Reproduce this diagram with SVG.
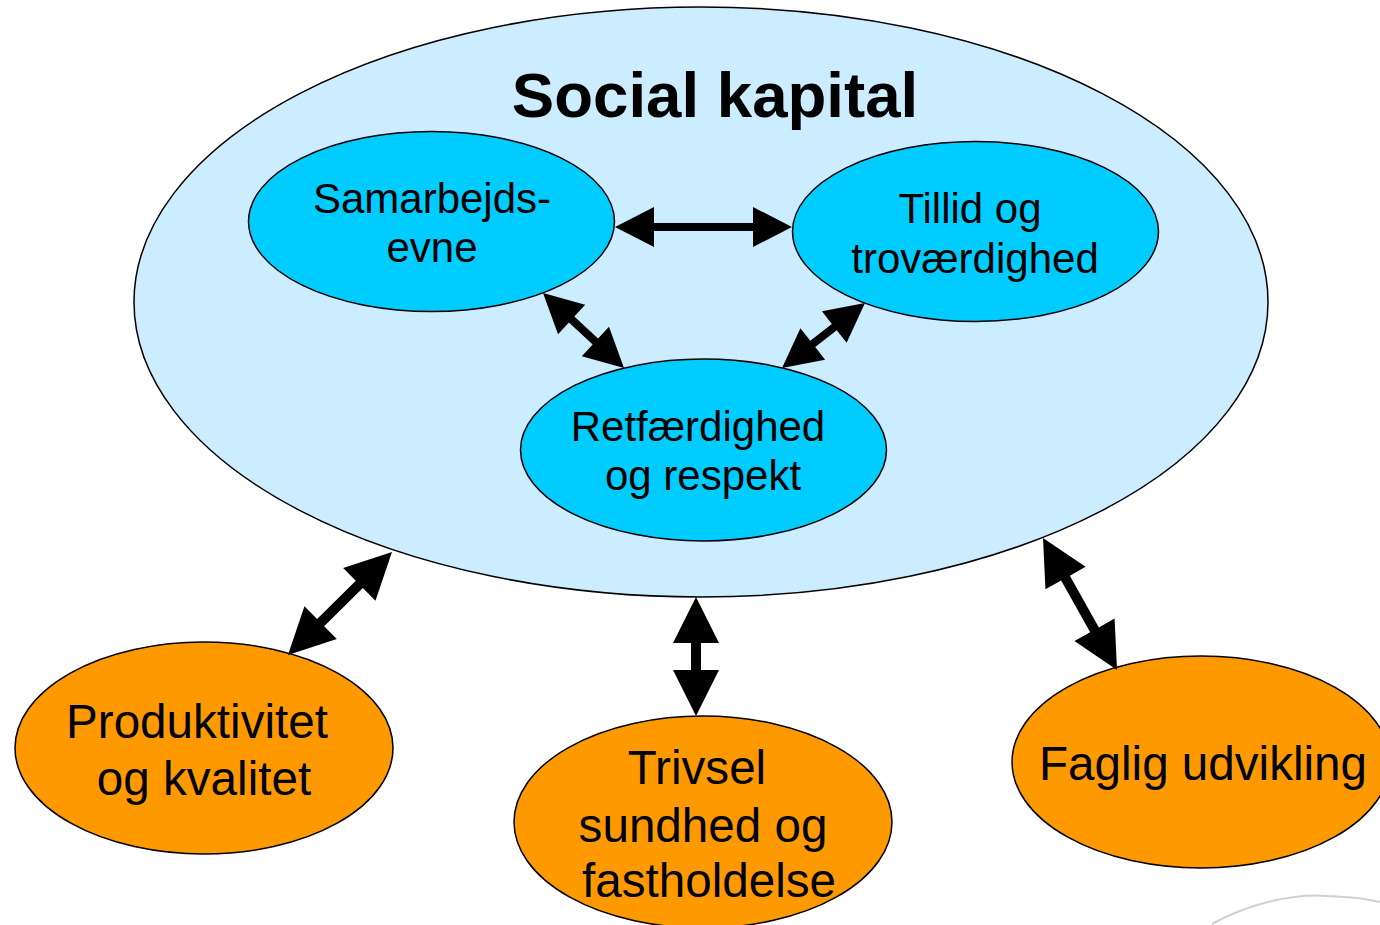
<svg xmlns="http://www.w3.org/2000/svg" width="1380" height="925" viewBox="0 0 1380 925">
<style>
.big{fill:#CCECFF;stroke:#000;stroke-width:1.5}
.inner{fill:#00CCFF;stroke:#000;stroke-width:1.5}
.outer{fill:#FF9900;stroke:#000;stroke-width:1.5}
text{font-family:"Liberation Sans",Arial,sans-serif;fill:#000;text-anchor:middle}
.t1{font-size:42px}
.t2{font-size:47.6px}
.title{font-size:63.6px;font-weight:bold}
.arr{fill:#000}
</style>
<rect width="1380" height="925" fill="#fff"/>
<path d="M1212,924 C1250,903 1295,893 1328,896 C1350,897 1368,899 1380,902" fill="none" stroke="#d0d0d0" stroke-width="2"/>
<g id="social-kapital">
<ellipse class="big" cx="701" cy="302" rx="567" ry="295"/>
<text class="title" x="715" y="117">Social kapital</text>
</g>
<g id="samarbejdsevne">
<ellipse class="inner" cx="431.5" cy="221.5" rx="183" ry="90"/>
<text class="t1" x="432" y="213">Samarbejds-</text>
<text class="t1" x="432" y="262">evne</text>
</g>
<g id="tillid">
<ellipse class="inner" cx="975.5" cy="231.5" rx="183" ry="90"/>
<text class="t1" x="970" y="223">Tillid og</text>
<text class="t1" x="975" y="273">troværdighed</text>
</g>
<g id="retfaerdighed">
<ellipse class="inner" cx="703.5" cy="450" rx="183" ry="91"/>
<text class="t1" x="698" y="441">Retfærdighed</text>
<text class="t1" x="703" y="490">og respekt</text>
</g>
<g id="produktivitet">
<ellipse class="outer" cx="204" cy="748" rx="189" ry="106"/>
<text class="t2" x="197" y="738">Produktivitet</text>
<text class="t2" x="204" y="795">og kvalitet</text>
</g>
<g id="trivsel">
<ellipse class="outer" cx="703" cy="822" rx="189" ry="106"/>
<text class="t2" x="697" y="784">Trivsel</text>
<text class="t2" x="703" y="842">sundhed og</text>
<text class="t2" x="709" y="897">fastholdelse</text>
</g>
<g id="faglig">
<ellipse class="outer" cx="1201" cy="762" rx="189" ry="106"/>
<text class="t2" x="1203" y="780">Faglig udvikling</text>
</g>
<g id="connectors">
<polygon class="arr" transform="translate(615,227)" points="0,0 39,-20 39,-4 138,-4 138,-20 177,0 138,20 138,4 39,4 39,20"/>
<polygon class="arr" transform="translate(543,293) rotate(42.8)" points="0,0 39,-20 39,-4 71.4,-4 71.4,-20 110.4,0 71.4,20 71.4,4 39,4 39,20"/>
<polygon class="arr" transform="translate(865,303) rotate(141.9)" points="0,0 39,-20 39,-4 66.4,-4 66.4,-20 105.4,0 66.4,20 66.4,4 39,4 39,20"/>
<polygon class="arr" transform="translate(392,552) rotate(135.3)" points="0,0 46,-23 46,-5 100.4,-5 100.4,-23 146.4,0 100.4,23 100.4,5 46,5 46,23"/>
<polygon class="arr" transform="translate(696,597) rotate(90)" points="0,0 46,-23 46,-5 73,-5 73,-23 119,0 73,23 73,5 46,5 46,23"/>
<polygon class="arr" transform="translate(1043,538) rotate(60.7)" points="0,0 46,-23 46,-5 105.3,-5 105.3,-23 151.3,0 105.3,23 105.3,5 46,5 46,23"/>
</g>
</svg>
